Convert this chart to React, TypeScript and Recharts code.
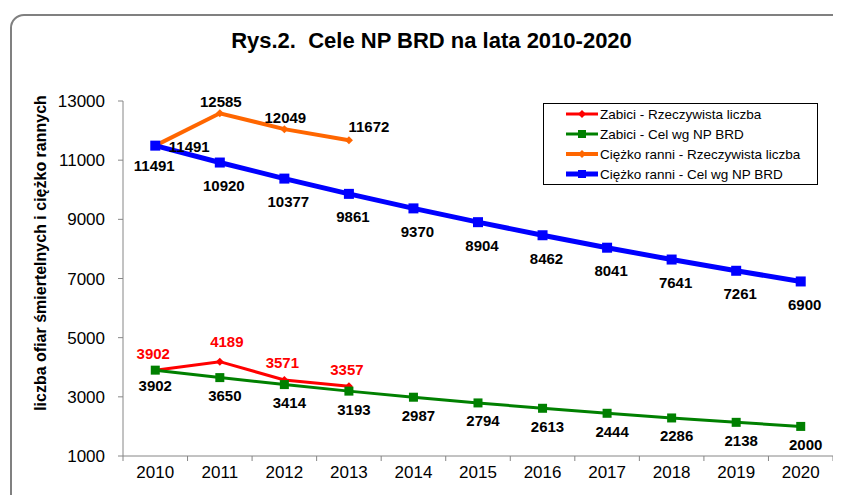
import React from "react";
import { LineChart, Line, XAxis, YAxis, Legend, LabelList } from "recharts";

const years = ["2010", "2011", "2012", "2013", "2014", "2015", "2016", "2017", "2018", "2019", "2020"];
const killedActual = [3902, 4189, 3571, 3357];
const killedTarget = [3902, 3650, 3414, 3193, 2987, 2794, 2613, 2444, 2286, 2138, 2000];
const injuredActual = [11491, 12585, 12049, 11672];
const injuredTarget = [11491, 10920, 10377, 9861, 9370, 8904, 8462, 8041, 7641, 7261, 6900];
const yTicks = [1000, 3000, 5000, 7000, 9000, 11000, 13000];

const data = years.map((year, i) => ({
  year,
  killedActual: killedActual[i] ?? null,
  killedTarget: killedTarget[i],
  injuredActual: injuredActual[i] ?? null,
  injuredTarget: injuredTarget[i],
}));

const FONT = "'Liberation Sans', Arial, sans-serif";
const W = 841;
const H = 503;
const M = { top: 101, right: 8, bottom: 46, left: 63 };
const Y_AXIS_W = 60;
const HALF_BAND = (W - M.left - Y_AXIS_W - M.right) / years.length / 2;

const RED = "#ff0000";
const GREEN = "#008000";
const ORANGE = "#ff6600";
const BLUE = "#0000ff";

const squareDot = (size: number, color: string) => (props: any) => {
  const { cx, cy, index } = props;
  if (cx == null || cy == null || props.value == null) return <g key={`s-${index}`} />;
  return <rect key={`s-${index}`} x={cx - size / 2} y={cy - size / 2} width={size} height={size} fill={color} />;
};

const diamondDot = (size: number, color: string) => (props: any) => {
  const { cx, cy, index } = props;
  if (cx == null || cy == null || props.value == null) return <g key={`d-${index}`} />;
  const r = size / 2;
  return (
    <polygon
      key={`d-${index}`}
      points={`${cx},${cy - r} ${cx + r},${cy} ${cx},${cy + r} ${cx - r},${cy}`}
      fill={color}
    />
  );
};

// label nudges so the numbers sit roughly where Excel put them
const makeLabel = (color: string, dx: number, dy: number, nudge: Record<number, [number, number]> = {}) =>
  (props: any) => {
    const { x, y, value, index } = props;
    if (value == null || x == null || y == null) return null;
    const [ndx, ndy] = nudge[index] ?? [dx, dy];
    return (
      <text
        x={x + ndx}
        y={y + ndy}
        textAnchor="middle"
        dominantBaseline="central"
        fill={color}
        fontSize={15}
        fontWeight="bold"
        fontFamily={FONT}
      >
        {value}
      </text>
    );
  };

const XTick = (props: any) => {
  const { x, y, payload, index } = props;
  return (
    <g>
      {index === 0 && <line x1={x - HALF_BAND} x2={x - HALF_BAND} y1={y} y2={y + 5} stroke="#868686" />}
      <line x1={x + HALF_BAND} x2={x + HALF_BAND} y1={y} y2={y + 5} stroke="#868686" />
      <text x={x} y={y + 22} textAnchor="middle" fontSize={17} fill="#000" fontFamily={FONT}>
        {payload.value}
      </text>
    </g>
  );
};

const legendItems = [
  { key: "killedActual", label: "Zabici - Rzeczywista liczba", color: RED, width: 3, marker: "diamond" },
  { key: "killedTarget", label: "Zabici - Cel wg NP BRD", color: GREEN, width: 3, marker: "square" },
  { key: "injuredActual", label: "Ciężko ranni - Rzeczywista liczba", color: ORANGE, width: 4, marker: "diamond" },
  { key: "injuredTarget", label: "Ciężko ranni - Cel wg NP BRD", color: BLUE, width: 5, marker: "square" },
];

const LegendBox = () => (
  <div
    style={{
      border: "1px solid #000",
      background: "#fff",
      width: 273,
      height: 80,
      fontFamily: FONT,
      fontSize: 13.5,
      boxSizing: "content-box",
    }}
  >
    {legendItems.map((it) => (
      <div key={it.key} style={{ display: "flex", alignItems: "center", height: 20, paddingLeft: 21 }}>
        <svg width={34} height={12} style={{ flexShrink: 0 }}>
          <line x1={1} x2={33} y1={6} y2={6} stroke={it.color} strokeWidth={it.width} />
          {it.marker === "square" ? (
            <rect x={13} y={2} width={8} height={8} fill={it.color} />
          ) : (
            <polygon points="17,2 21,6 17,10 13,6" fill={it.color} />
          )}
        </svg>
        <span style={{ marginLeft: 1, whiteSpace: "nowrap" }}>{it.label}</span>
      </div>
    ))}
  </div>
);

export default function App() {
  return (
    <div style={{ position: "relative", width: W, height: H, margin: -8, overflow: "hidden", background: "#fff" }}>
      <div
        style={{
          position: "absolute",
          left: 10,
          top: 14,
          width: 900,
          height: 500,
          border: "2px solid #808080",
          borderRadius: 14,
        }}
      />
      <div
        style={{
          position: "absolute",
          left: 11,
          width: W,
          top: 28,
          textAlign: "center",
          fontFamily: FONT,
          fontWeight: "bold",
          fontSize: 22,
        }}
      >
        Rys.2.&nbsp; Cele NP BRD na lata 2010-2020
      </div>
      <LineChart width={W} height={H} data={data} margin={M} style={{ position: "absolute", left: 0, top: 0 }}>
        <XAxis
          dataKey="year"
          height={1}
          padding={{ left: HALF_BAND, right: HALF_BAND }}
          stroke="#868686"
          tickLine={false}
          tickSize={0}
          tickMargin={0}
          tick={<XTick />}
          interval={0}
        />
        <YAxis
          width={Y_AXIS_W}
          domain={[1000, 13000]}
          ticks={yTicks}
          stroke="#868686"
          tickSize={5}
          tickMargin={13}
          tick={{ fontSize: 17, fill: "#000", fontFamily: FONT }}
          interval={0}
          label={{
            content: () => (
              <text
                x={40}
                y={253}
                transform="rotate(-90 40 253)"
                textAnchor="middle"
                dominantBaseline="central"
                fontSize={16}
                fontWeight="bold"
                fontFamily={FONT}
                fill="#000"
              >
                liczba ofiar śmiertelnych i ciężko rannych
              </text>
            ),
          }}
        />
        <Legend
          layout="vertical"
          align="center"
          verticalAlign="middle"
          content={<LegendBox />}
          wrapperStyle={{ left: 543, top: 103, width: 275, height: 82 }}
        />
        <Line
          dataKey="killedActual"
          name="Zabici - Rzeczywista liczba"
          stroke={RED}
          strokeWidth={3}
          dot={diamondDot(8, RED)}
          activeDot={false}
          isAnimationActive={false}
        >
          <LabelList dataKey="killedActual" content={makeLabel(RED, -2, -17, { 1: [7, -20] })} />
        </Line>
        <Line
          dataKey="killedTarget"
          name="Zabici - Cel wg NP BRD"
          stroke={GREEN}
          strokeWidth={3}
          dot={squareDot(9, GREEN)}
          activeDot={false}
          isAnimationActive={false}
        >
          <LabelList dataKey="killedTarget" content={makeLabel("#000", 5, 18, { 0: [0, 15] })} />
        </Line>
        <Line
          dataKey="injuredActual"
          name="Ciężko ranni - Rzeczywista liczba"
          stroke={ORANGE}
          strokeWidth={4}
          dot={diamondDot(8, ORANGE)}
          activeDot={false}
          isAnimationActive={false}
        >
          <LabelList
            dataKey="injuredActual"
            content={makeLabel("#000", 1, -12, { 0: [34, 1], 3: [20, -14] })}
          />
        </Line>
        <Line
          dataKey="injuredTarget"
          name="Ciężko ranni - Cel wg NP BRD"
          stroke={BLUE}
          strokeWidth={5}
          dot={squareDot(10, BLUE)}
          activeDot={false}
          isAnimationActive={false}
        >
          <LabelList dataKey="injuredTarget" content={makeLabel("#000", 4, 23, { 0: [-1, 20] })} />
        </Line>
      </LineChart>
    </div>
  );
}
